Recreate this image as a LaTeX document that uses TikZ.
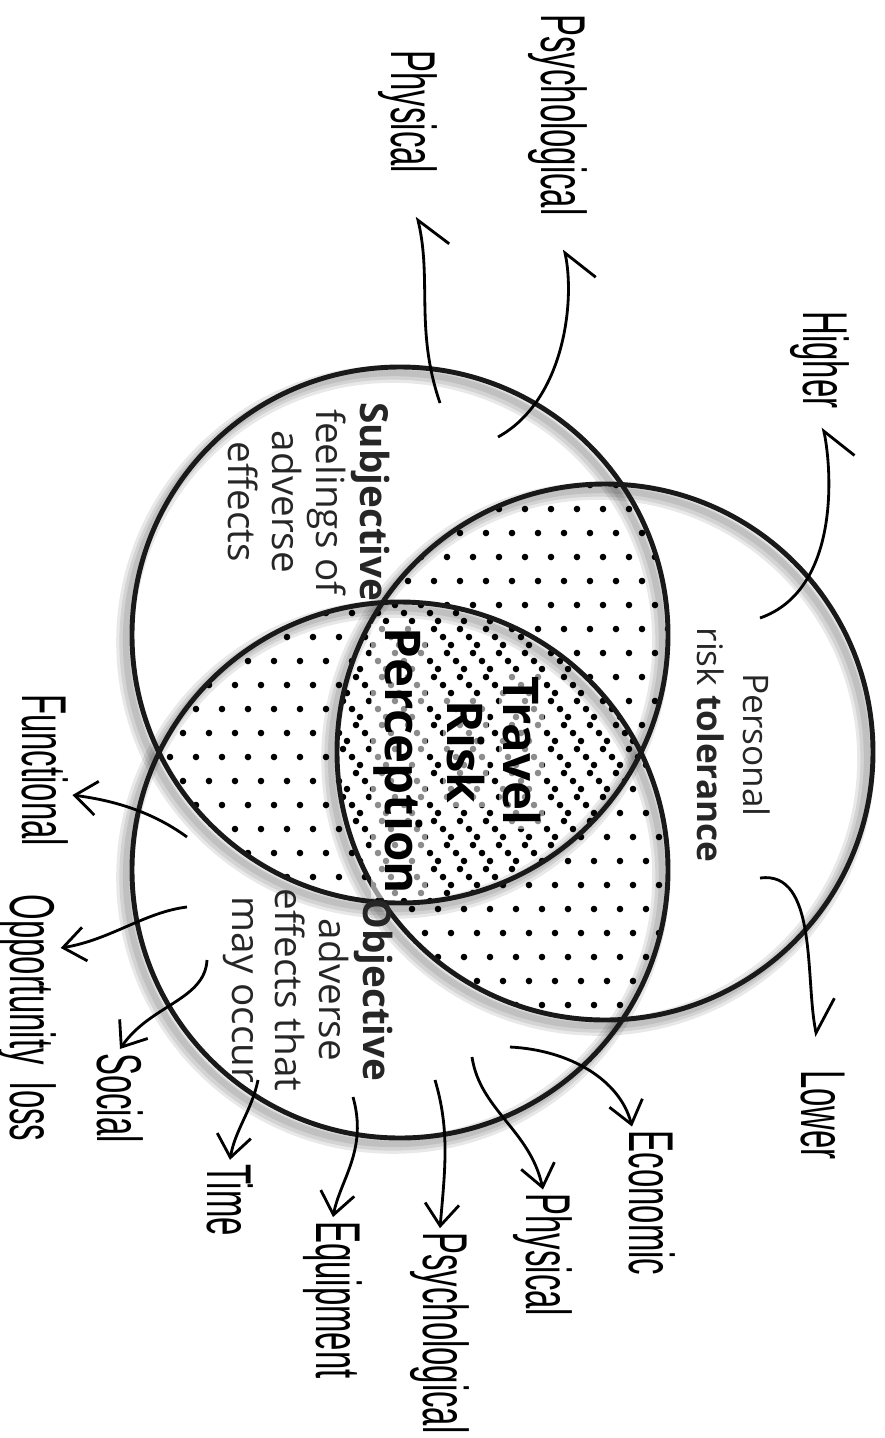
\documentclass[tikz,border=0pt]{standalone}
\usepackage{fontspec}
\setmainfont{Open Sans}
\newfontfamily\handfont[FakeStretch=0.52]{Liberation Sans}
\usetikzlibrary{arrows.meta}

\begin{document}
\begin{tikzpicture}[
x=0.01cm, y=-0.01cm,
every node/.style={inner sep=1pt},
ring/.style={draw=black!90, line width=1.4pt},
blur/.style={draw=black, draw opacity=0.09, line width=#1},
body/.style={rotate=-90, align=center, text=black!85, font=\fontsize{11}{12.5}\selectfont},
tol/.style={rotate=-90, align=center, text=black!85, font=\fontsize{10}{13}\selectfont},
title/.style={rotate=-90, anchor=base, font=\fontsize{14}{16}\selectfont\bfseries, fill=white, fill opacity=0.55, text opacity=1},
hand/.style={rotate=-90, font=\handfont\fontsize{18}{20}\selectfont},
hook/.style={line width=0.8pt, -{Straight Barb[harpoon, length=3mm, width=5mm]}},
hookr/.style={line width=0.8pt, -{Straight Barb[harpoon, swap, length=3mm, width=5mm]}},
barb/.style={line width=0.8pt, -{Straight Barb[length=2.2mm, width=3.4mm]}}
]
\useasboundingbox (0,0) rectangle (885,1438);

% circle centres
\coordinate (ca) at (400,635);
\coordinate (cb) at (605,752);
\coordinate (cc) at (400,870);

% soft shadows
\foreach \c in {ca,cb,cc}{
  \draw[blur=5pt] ([xshift=-0.7mm,yshift=-0.7mm]\c) circle[radius=268];
  \draw[blur=3.2pt] ([xshift=-0.7mm,yshift=-0.7mm]\c) circle[radius=268];
  \draw[blur=1.8pt] ([xshift=-0.6mm,yshift=-0.6mm]\c) circle[radius=268];
}

% dotted overlaps
\foreach \p/\q/\ox/\oy in {ca/cb/0/0, ca/cc/9/8, cb/cc/17/16}{
  \begin{scope}
    \clip (\p) circle[radius=268];
    \clip (\q) circle[radius=268];
    \foreach \i in {0,...,22}
      \foreach \j in {0,...,33}
        \fill ({135+\i*26+mod(\j,2)*13+\ox},{365+\j*24+\oy}) circle[radius=3.3];
  \end{scope}
}

\foreach \c in {ca,cb,cc}
  \draw[ring] (\c) circle[radius=268];

% texts in the circles
\node[tol] (tolerance) at (734,745) {Personal\\risk \textbf{tolerance}};
\node[body] (subjective) at (309,502) {\textbf{Subjective}\\feelings of\\adverse\\effects};
\node[body] (objective) at (308,990) {\textbf{Objective}\\adverse\\effects that\\may occur};
\node[title] (travel) at (503,751) {Travel};
\node[title] (risk) at (447,752) {Risk};
\node[title] (perception) at (386,761) {Perception};

% hand labels
\node[hand] (higher) at (820,360) {Higher};
\node[hand] (lower) at (823,1115) {Lower};
\node[hand] (physA) at (408,112) {Physical};
\node[hand] (psychA) at (558,115) {Psychological};
\node[hand] (functional) at (45,770) {Functional};
\node[hand] (opportunity) at (27,1018) {Opportunity\ \ loss};
\node[hand] (social) at (120,1098) {Social};
\node[hand] (time) at (230,1200) {Time};
\node[hand] (equipment) at (333,1300) {Equipment};
\node[hand] (psychB) at (440,1333) {Psychological};
\node[hand] (physB) at (543,1255) {Physical};
\node[hand] (economic) at (652,1203) {Economic};

% arrow tails
\coordinate (hiT) at (760,618);
\coordinate (loT) at (760,878);
\coordinate (phT) at (440,403);
\coordinate (psT) at (498,437);
\coordinate (fuT) at (187,837);
\coordinate (opT) at (187,907);
\coordinate (soT) at (207,960);
\coordinate (tiT) at (258,1080);
\coordinate (eqT) at (353,1097);
\coordinate (pbT) at (435,1080);
\coordinate (yT) at (472,1057);
\coordinate (ecT) at (510,1047);

% arrows
\draw[hookr, shorten >=1.5mm] (hiT) .. controls (840,590) and (832,470) .. (higher.east);
\draw[hook, shorten >=3mm] (loT) .. controls (818,870) and (805,980) .. (lower.west);
\draw[hookr, shorten >=4mm] (phT) .. controls (415,330) and (432,280) .. (physA.east);
\draw[hookr, shorten >=3mm] (psT) .. controls (565,400) and (575,300) .. (psychA.east);
\draw[barb] (fuT) .. controls (150,810) and (110,800) .. ([yshift=-2.5mm]functional.north);
\draw[barb] (opT) .. controls (145,912) and (110,940) .. ([yshift=7mm]opportunity.north);
\draw[barb] (soT) .. controls (205,1000) and (150,1005) .. (social.west);
\draw[barb] (tiT) .. controls (252,1110) and (235,1130) .. (time.west);
\draw[barb] (eqT) .. controls (368,1150) and (340,1180) .. (equipment.west);
\draw[barb] (pbT) .. controls (450,1130) and (445,1170) .. (psychB.west);
\draw[barb] (yT) .. controls (480,1110) and (530,1130) .. (physB.west);
\draw[barb] (ecT) .. controls (570,1050) and (620,1080) .. ([xshift=-2mm]economic.west);
\end{tikzpicture}
\end{document}
